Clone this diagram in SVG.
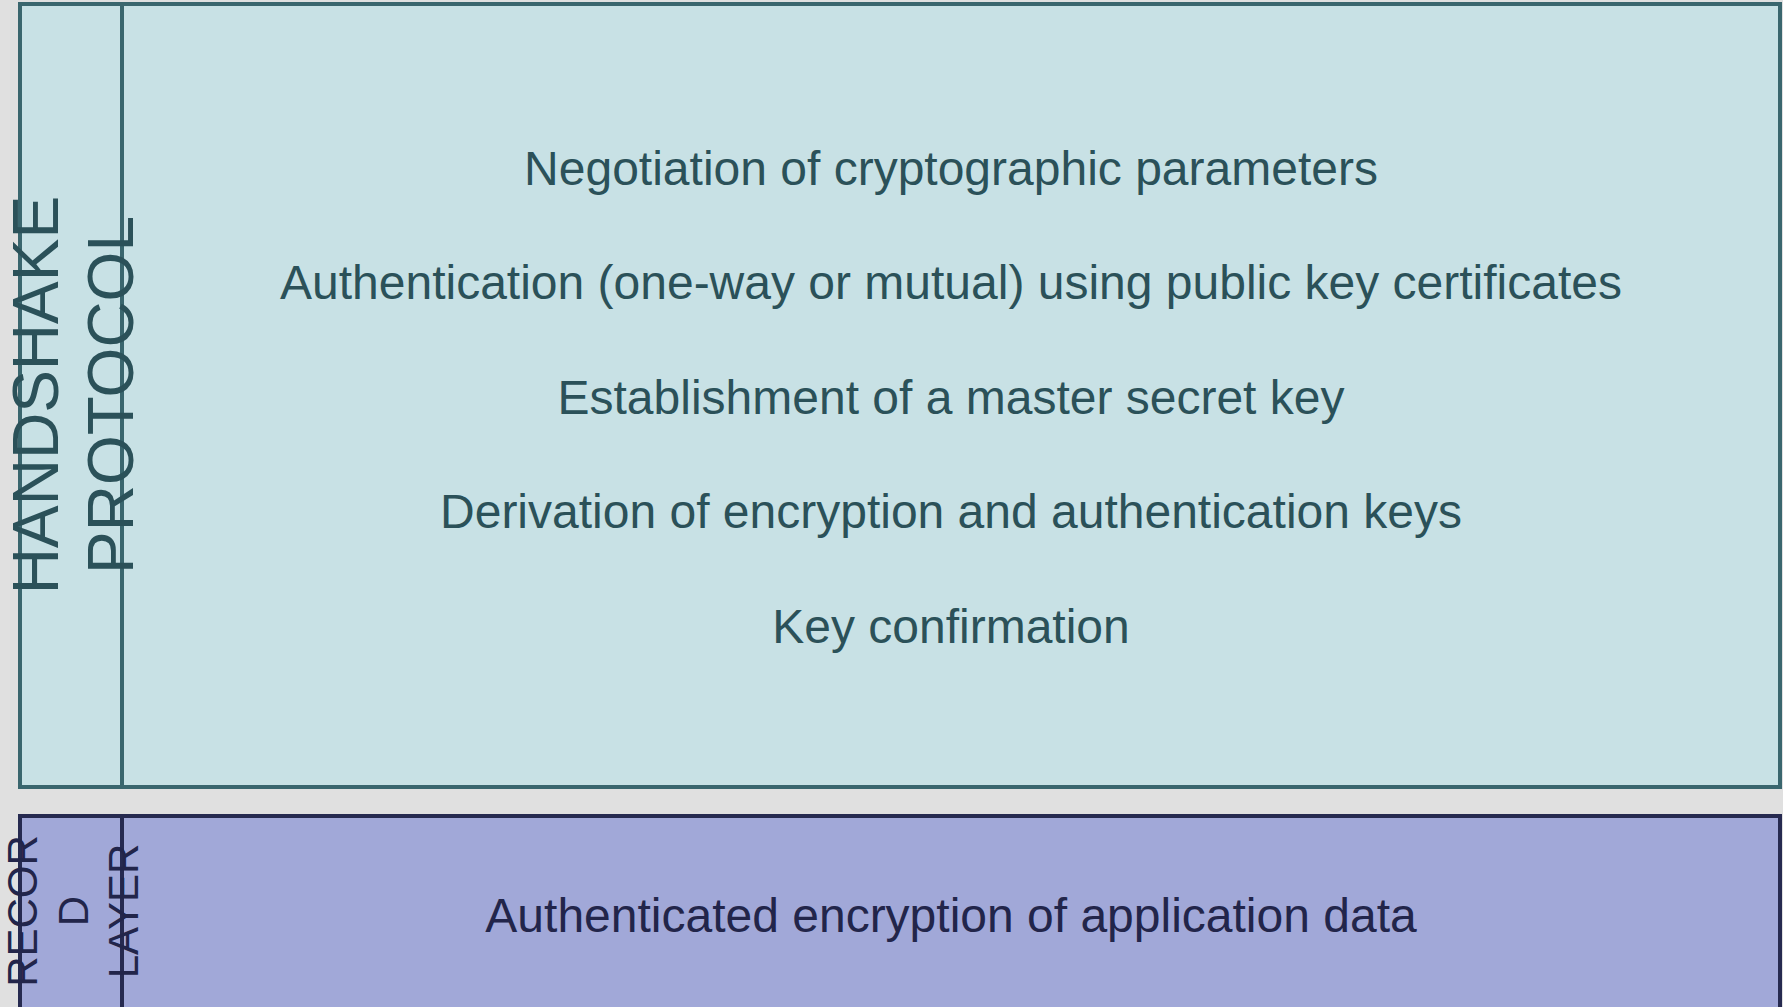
<svg xmlns="http://www.w3.org/2000/svg" width="1783" height="1007" viewBox="0 0 1783 1007">
  <style>
    .hs-box { fill: #c8e1e5; stroke: #3a666e; stroke-width: 4; }
    .hs-line { stroke: #3a666e; stroke-width: 4; }
    .hs-text { fill: #2b5159; font-family: "Liberation Sans", Arial, sans-serif; }
    .rl-box { fill: #a1a8d8; stroke: #262a50; stroke-width: 4; }
    .rl-line { stroke: #262a50; stroke-width: 4; }
    .rl-text { fill: #22254a; font-family: "Liberation Sans", Arial, sans-serif; }
    .item { font-size: 48px; text-anchor: middle; }
    .side { font-size: 64px; text-anchor: middle; }
    .side-small { font-size: 42px; text-anchor: middle; }
  </style>
  <rect width="1783" height="1007" fill="#e0e0e0"/>

  <!-- Handshake protocol layer -->
  <g id="handshake">
    <rect class="hs-box" x="20" y="4" width="1760" height="783"/>
    <line class="hs-line" x1="122" y1="4" x2="122" y2="787"/>
    <g transform="translate(72 395) rotate(-90)">
      <text class="hs-text side" x="0" y="-14">HANDSHAKE</text>
      <text class="hs-text side" x="0" y="61">PROTOCOL</text>
    </g>
    <text class="hs-text item" x="951" y="185">Negotiation of cryptographic parameters</text>
    <text class="hs-text item" x="951" y="299">Authentication (one-way or mutual) using public key certificates</text>
    <text class="hs-text item" x="951" y="414">Establishment of a master secret key</text>
    <text class="hs-text item" x="951" y="528">Derivation of encryption and authentication keys</text>
    <text class="hs-text item" x="951" y="643">Key confirmation</text>
  </g>

  <!-- Record layer -->
  <g id="record-layer">
    <rect class="rl-box" x="20" y="816" width="1760" height="230"/>
    <line class="rl-line" x1="122" y1="816" x2="122" y2="1046"/>
    <g transform="translate(72 911) rotate(-90)">
      <text class="rl-text side-small" x="0" y="-35">RECOR</text>
      <text class="rl-text side-small" x="0" y="16">D</text>
      <text class="rl-text side-small" x="0" y="66">LAYER</text>
    </g>
    <text class="rl-text item" x="951" y="932">Authenticated encryption of application data</text>
  </g>

  <g id="connectors"/>
</svg>
